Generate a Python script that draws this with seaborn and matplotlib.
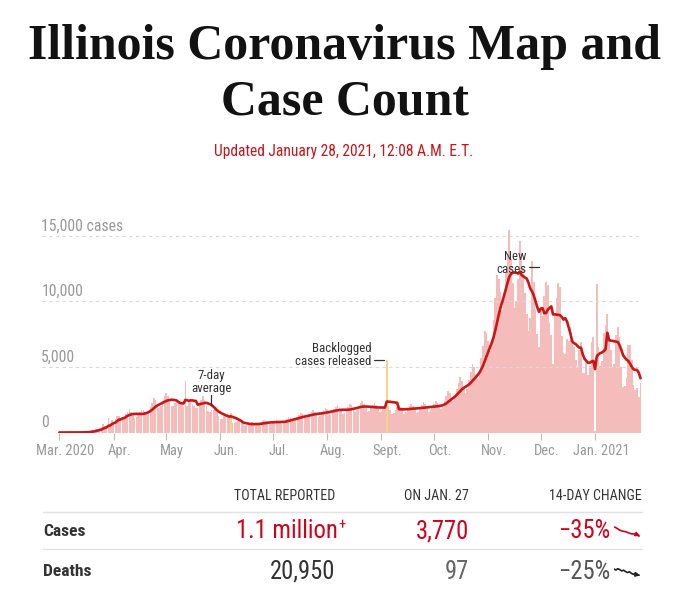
import numpy as np
import pandas as pd
import matplotlib
matplotlib.use('Agg')
import matplotlib.pyplot as plt
from matplotlib import font_manager as fm
from matplotlib.lines import Line2D
from matplotlib.textpath import TextPath
from matplotlib.transforms import ScaledTranslation
import seaborn as sns

# =============================================================================
# Data: daily new cases in Illinois, Mar. 1 2020 - Jan. 27 2021
# =============================================================================

mar = [0, 0, 0, 0, 1, 1, 0, 2, 3, 4, 8, 6, 14, 18, 30, 12, 32, 55, 128, 166,
       163, 296, 236, 250, 330, 673, 488, 465, 1105, 461, 937]
apr = [820, 1010, 1260, 1290, 1140, 1030, 1140, 1410, 1590, 1770, 1550, 1360,
       1110, 1180, 1380, 1560, 1690, 1700, 1550, 1410, 1560, 1960, 2230, 2600,
       2460, 2200, 1870, 2050, 2430, 2760]
may = [3040, 2780, 2400, 2020, 2020, 2250, 2560, 2300, 2200, 2270, 1910, 3900,
       2050, 2300, 2500, 2200, 2000, 1900, 1900, 2250, 2500, 2760, 2450, 2040,
       1600, 1560, 1700, 1700, 1780, 1540, 1280]
jun = [1040, 1060, 1220, 1300, 1380, 1190, 1450, 700, 760, 820, 840, 840, 715,
       610, 510, 545, 640, 700, 770, 700, 610, 540, 595, 730, 840, 930, 860,
       745, 630, 670]
jul = [790, 875, 956, 880, 760, 664, 740, 900, 1045, 1200, 1155, 1026, 888,
       969, 1170, 1320, 1482, 1397, 1245, 1076, 1173, 1395, 1551, 1716, 1590,
       1387, 1184, 1275, 1520, 1700, 1884]
aug = [1760, 1558, 1344, 1462, 1760, 1914, 2076, 1903, 1639, 1376, 1462, 1720,
       1947, 2208, 2090, 1834, 1568, 1683, 2000, 2211, 2388, 2156, 1843, 1536,
       1624, 1905, 2090, 2280, 2090, 1815, 1536]
sep = [1615, 1900, 2079, 5500, 2035, 1710, 1416, 1488, 1750, 1925, 2112, 1947,
       1691, 1432, 1530, 1810, 2008, 2208, 2035, 1767, 1496, 1598, 1900, 2112,
       2328, 2156, 1876, 1592, 1700, 2000]
oct_ = [2189, 2376, 2255, 2014, 1760, 1955, 2400, 2750, 3132, 2992, 2736, 2432,
        2720, 3300, 3740, 4200, 3933, 3468, 3016, 3298, 4000, 4609, 5256, 4994,
        4465, 4040, 4590, 5700, 6600, 7740, 7590]
nov = [6983, 6240, 6970, 8600, 10230, 12000, 11715, 10735, 9320, 10200, 12150,
       13530, 15400, 13200, 11353, 9520, 10030, 11700, 14600, 13600, 12500,
       10650, 9030, 7720, 8690, 13060, 11490, 9350, 7500, 6510]
dec = [9500, 8900, 10400, 11500, 11200, 8340, 7420, 5200, 8940, 10260, 11360,
       11060, 7360, 6020, 6000, 7120, 7000, 8000, 7000, 6500, 5500, 5000, 6300,
       6900, 4500, 4570, 5500, 4400, 5070, 6900, 7280]
jan = [100, 11350, 6550, 5100, 5420, 7600, 8190, 8990, 7430, 6270, 4960, 5210,
       7390, 8050, 7240, 4980, 3470, 3560, 4160, 6690, 6650, 5490, 3650, 3260,
       3420, 2690, 3770]

cases = mar + apr + may + jun + jul + aug + sep + oct_ + nov + dec + jan
start_date = '2020-03-01'
flagged_dates = ['2020-06-07', '2020-09-04']  # days drawn in yellow

month_labels = ['Mar. 2020', 'Apr.', 'May', 'Jun.', 'Jul.', 'Aug.', 'Sept.',
                'Oct.', 'Nov.', 'Dec.', 'Jan. 2021']
y_values = [0, 5000, 10000, 15000]
y_labels = ['0', '5,000', '10,000', '15,000 cases']

# table under the chart
table_cols = ['TOTAL REPORTED', 'ON JAN. 27', '14-DAY CHANGE']
row_names = ['Cases', 'Deaths']
total_reported = ['1.1 million', '20,950']
on_day = ['3,770', '97']
change_14d = ['\u221235%', '\u221225%']
deaths_trend = [131, 126, 133, 128, 121, 125, 118, 112, 117, 109, 103, 108, 101, 98]

# =============================================================================
# Fonts
# =============================================================================

W, H, DPI = 681, 590, 100


def pick_font(families, weight='normal'):
    found = []
    for fam in families:
        try:
            p = fm.findfont(fm.FontProperties(family=fam, weight=weight, stretch='condensed'),
                            fallback_to_default=False)
            found.append(p)
        except ValueError:
            pass
    for p in found:
        if 'ondensed' in p or 'arrow' in p:
            return fm.FontProperties(fname=p)
    if found:
        return fm.FontProperties(fname=found[0])
    return fm.FontProperties(family='DejaVu Sans', weight=weight)


serif_bold = fm.FontProperties(family=['Liberation Serif', 'DejaVu Serif'], weight='bold')
narrow = pick_font(['Liberation Sans Narrow', 'Roboto Condensed', 'DejaVu Sans Condensed',
                    'DejaVu Sans', 'Liberation Sans'], 'normal')
narrow_bold = pick_font(['Liberation Sans Narrow', 'Roboto Condensed', 'DejaVu Sans Condensed',
                         'DejaVu Sans', 'Liberation Sans'], 'bold')


def sized(prop, text, width_px):
    # font size that gives the text the wanted ink width
    w = TextPath((0, 0), text, size=10, prop=prop).get_extents().width
    p = prop.copy()
    p.set_size(10 * width_px / (w * DPI / 72))
    return p


def fx(px):
    return px / W


def fy(py):
    return 1 - py / H


# =============================================================================
# Chart
# =============================================================================

sns.set_theme(style='white')

df = pd.DataFrame({'date': pd.date_range(start_date, periods=len(cases)), 'cases': cases})
df['day'] = np.arange(len(df))
df['avg'] = df['cases'].rolling(7, min_periods=1).mean()
df['kind'] = np.where(df['date'].isin(pd.to_datetime(flagged_dates)), 'flag', 'normal')

fig = plt.figure(figsize=(W / DPI, H / DPI), dpi=DPI)
ax = fig.add_axes([fx(42), fy(432.5), 600.3 / W, 207.4 / H])

sns.barplot(data=df, x='day', y='cases', hue='kind', native_scale=True, dodge=False,
            palette={'normal': '#f5bcbc', 'flag': '#f8d28c'}, saturation=1, width=0.92,
            linewidth=0, errorbar=None, legend=False, ax=ax, zorder=1)
for v in y_values[1:]:
    ax.axhline(v, color='#d9d9d9', lw=0.8, ls=(0, (3, 3)), zorder=1.5)
ax.axhline(0, color='#cccccc', lw=0.8, zorder=0.5)
sns.lineplot(data=df, x='day', y='avg', color='#cc1515', lw=1.9, ax=ax, zorder=3)

ax.set_xlim(-9.9, 333.0)
ax.set_ylim(0, 15800)
sns.despine(ax=ax, left=True, bottom=True)
ax.set_xlabel('')
ax.set_ylabel('')
ax.set_yticks([])

tick_prop = sized(narrow, 'Mar. 2020', 56)
month_pos = df.index[df['date'].dt.day == 1]
ax.set_xticks(month_pos)
ax.set_xticklabels(month_labels, fontproperties=tick_prop, color='#999999')
ax.tick_params(axis='x', length=5, width=0.8, color='#bbbbbb', pad=3, bottom=True)
for lbl in ax.get_xticklabels():
    lbl.set_transform(lbl.get_transform() + ScaledTranslation(6 / DPI, 0, fig.dpi_scale_trans))

ylab_prop = sized(narrow, '15,000 cases', 80)
for v, s in zip(y_values, y_labels):
    ax.annotate(s, xy=(0, v), xycoords=('axes fraction', 'data'), xytext=(-0.5, 1.5),
                textcoords='offset points', ha='left', va='bottom',
                fontproperties=ylab_prop, color='#999999', zorder=4)

# annotations
note_prop = sized(narrow, 'average', 39)
ax.text(86.65, 3850, '7-day\naverage', ha='center', va='center', linespacing=1.0,
        fontproperties=note_prop, color='#333333', zorder=4)
ax.plot([86.65, 86.65], [2100, 2850], color='#333333', lw=0.9, zorder=4)

backlog_day = df.index[df['kind'] == 'flag'][-1]
ax.text(178.4, 5870, 'Backlogged\ncases released', ha='right', va='center', linespacing=1.0,
        fontproperties=note_prop, color='#333333', zorder=4)
ax.plot([179.8, 185.5], [df.loc[backlog_day, 'cases']] * 2, color='#333333', lw=0.9, zorder=4)

ax.text(266.6, 12930, 'New\ncases', ha='right', va='center', linespacing=1.0,
        fontproperties=note_prop, color='#333333', zorder=4)
ax.plot([268.3, 274.0], [12600, 12600], color='#333333', lw=0.9, zorder=4)

# =============================================================================
# Title
# =============================================================================

title_prop = sized(serif_bold, 'Illinois Coronavirus Map and', 630)
fig.text(fx(344), fy(59), 'Illinois Coronavirus Map and', ha='center', va='baseline',
         fontproperties=title_prop, color='#121212')
fig.text(fx(345), fy(114), 'Case Count', ha='center', va='baseline',
         fontproperties=title_prop, color='#121212')
fig.text(fx(344), fy(152), 'Updated January 28, 2021, 12:08 A.M. E.T.', ha='center', va='center',
         fontproperties=sized(narrow, 'Updated January 28, 2021, 12:08 A.M. E.T.', 258),
         color='#c4161c')

# =============================================================================
# Table
# =============================================================================

head_prop = sized(narrow, 'TOTAL REPORTED', 100)
for s, xr in zip(table_cols, [335, 469, 642]):
    fig.text(fx(xr), fy(495.5), s, ha='right', va='center', fontproperties=head_prop, color='#333333')
for py in [512, 549]:
    fig.add_artist(Line2D([fx(43), fx(642)], [fy(py)] * 2, color='#e2e2e2', lw=1))

val_prop = sized(narrow, '20,950', 63)
row_prop = sized(narrow_bold, 'Cases', 41)
red = '#d0021b'
row_y = [531, 572]
row_colors = [(red, red, red), ('#333333', '#666666', '#555555')]
for i, name in enumerate(row_names):
    y = fy(row_y[i])
    fig.text(fx(43), y, name, ha='left', va='center', fontproperties=row_prop, color='#333333')
    c1, c2, c3 = row_colors[i]
    fig.text(fx(338 if i == 0 else 335), y, total_reported[i], ha='right', va='center',
             fontproperties=val_prop, color=c1)
    fig.text(fx(469), y, on_day[i], ha='right', va='center', fontproperties=val_prop, color=c2)
    fig.text(fx(610), y, change_14d[i], ha='right', va='center', fontproperties=val_prop, color=c3)
plus_prop = val_prop.copy()
plus_prop.set_size(val_prop.get_size() * 0.6)
fig.text(fx(338.5), fy(525), '+', ha='left', va='center', fontproperties=plus_prop, color=red)

# 14-day sparklines
cases_trend = df['avg'].iloc[-14:].to_numpy()
sparks = [(cases_trend, red, 526, 537), (np.array(deaths_trend, float), '#222222', 568, 576)]
for trend, col, top, bottom in sparks:
    sa = fig.add_axes([fx(614), fy(bottom), 27 / W, (bottom - top) / H])
    xs = np.arange(len(trend))
    sns.lineplot(x=xs, y=trend, color=col, lw=1.2, ax=sa)
    sa.annotate('', xy=(xs[-1] + 0.6, trend[-1]), xytext=(xs[-2], trend[-2]),
                arrowprops=dict(arrowstyle='-|>', color=col, lw=1.2, mutation_scale=6,
                                shrinkA=0, shrinkB=0))
    sa.set_xlim(0, len(trend))
    rng = trend.max() - trend.min()
    sa.set_ylim(trend.min() - 0.1 * rng, trend.max() + 0.1 * rng)
    sa.axis('off')

fig.savefig('out.png', dpi=DPI)
